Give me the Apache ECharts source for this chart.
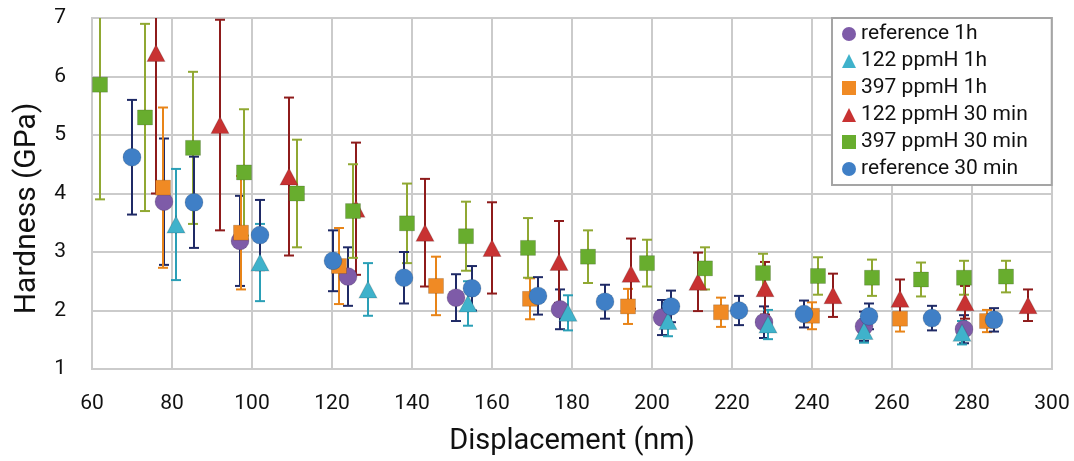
<!DOCTYPE html>
<html>
<head>
<meta charset="utf-8">
<script src="https://cdn.jsdelivr.net/npm/echarts@6/dist/echarts.min.js"></script>
<style>
  html, body { margin: 0; padding: 0; background: #fff; }
  #chart { width: 1074px; height: 461px; }
</style>
</head>
<body>
<div id="chart"></div>
<script>
// displacement (nm), hardness (GPa), half error bar (GPa)
const ref1hX = [78, 97, 124, 151, 177, 202.5, 228, 253, 278]
const ref1hY = [3.86, 3.19, 2.58, 2.22, 2.02, 1.88, 1.8, 1.73, 1.68]
const ref1hErr = [1.08, 0.77, 0.5, 0.4, 0.34, 0.3, 0.27, 0.25, 0.24]

const h122_1hX = [81, 102, 129, 154, 179, 204, 229, 253, 277.5]
const h122_1hY = [3.47, 2.82, 2.36, 2.12, 1.96, 1.82, 1.76, 1.65, 1.62]
const h122_1hErr = [0.95, 0.66, 0.45, 0.38, 0.3, 0.26, 0.25, 0.2, 0.2]

const h397_1hX = [77.75, 97.25, 121.75, 146, 169.5, 194, 217.25, 240, 262, 283.75]
const h397_1hY = [4.1, 3.33, 2.76, 2.42, 2.2, 2.07, 1.97, 1.91, 1.86, 1.82]
const h397_1hErr = [1.37, 0.97, 0.65, 0.5, 0.35, 0.3, 0.25, 0.23, 0.22, 0.19]

const h122_30X = [76, 92, 109.25, 126, 143.25, 160, 176.75, 194.75, 211.5, 228.25, 245.25, 262, 278.25, 294]
const h122_30Y = [6.4, 5.17, 4.29, 3.74, 3.33, 3.07, 2.83, 2.63, 2.49, 2.38, 2.26, 2.2, 2.14, 2.09]
const h122_30Err = [2.4, 1.8, 1.35, 1.13, 0.92, 0.78, 0.7, 0.6, 0.5, 0.45, 0.37, 0.33, 0.28, 0.27]

const h397_30X = [62, 73.25, 85.25, 98, 111.25, 125.25, 138.75, 153.5, 169, 184, 198.75, 213.25, 227.75, 241.5, 255, 267.25, 278, 288.5]
const h397_30Y = [5.86, 5.3, 4.78, 4.36, 4.0, 3.7, 3.49, 3.27, 3.07, 2.92, 2.81, 2.72, 2.64, 2.59, 2.56, 2.53, 2.56, 2.58]
const h397_30Err = [1.96, 1.6, 1.3, 1.08, 0.92, 0.8, 0.68, 0.59, 0.51, 0.45, 0.4, 0.36, 0.33, 0.32, 0.31, 0.29, 0.29, 0.27]

const ref30X = [70, 85.5, 102, 120.25, 138, 155, 171.5, 188.25, 204.75, 221.75, 238, 254.25, 270, 285.5]
const ref30Y = [4.62, 3.85, 3.29, 2.85, 2.56, 2.38, 2.25, 2.15, 2.07, 2.0, 1.94, 1.9, 1.87, 1.84]
const ref30Err = [0.98, 0.78, 0.6, 0.52, 0.44, 0.38, 0.32, 0.29, 0.27, 0.25, 0.23, 0.22, 0.21, 0.2]

const xTicks = [60, 80, 100, 120, 140, 160, 180, 200, 220, 240, 260, 280, 300]

const seriesDefs = [
  { name: 'reference 1h', xs: ref1hX, ys: ref1hY, err: ref1hErr, symbol: 'circle', size: 18, color: '#7e5ba8', bar: '#1f2a66' },
  { name: '122 ppmH 1h', xs: h122_1hX, ys: h122_1hY, err: h122_1hErr, symbol: 'triangle', size: 18, color: '#3fb2cb', bar: '#2a9fb6' },
  { name: '397 ppmH 1h', xs: h397_1hX, ys: h397_1hY, err: h397_1hErr, symbol: 'rect', size: 15, color: '#f08a24', bar: '#e88418' },
  { name: '122 ppmH 30 min', xs: h122_30X, ys: h122_30Y, err: h122_30Err, symbol: 'triangle', size: 18, color: '#c83232', bar: '#8e1b1b' },
  { name: '397 ppmH 30 min', xs: h397_30X, ys: h397_30Y, err: h397_30Err, symbol: 'rect', size: 15, color: '#68ad2e', bar: '#90a832' },
  { name: 'reference 30 min', xs: ref30X, ys: ref30Y, err: ref30Err, symbol: 'circle', size: 18, color: '#3f7fc6', bar: '#1f2a66' }
]

function errorBars (color) {
  return function (params, api) {
    const x = api.value(0)
    const top = api.coord([x, api.value(2)])
    const bot = api.coord([x, api.value(1)])
    const w = 5
    const style = { stroke: color, lineWidth: 2 }
    return {
      type: 'group',
      children: [
        { type: 'line', shape: { x1: top[0], y1: top[1], x2: bot[0], y2: bot[1] }, style },
        { type: 'line', shape: { x1: top[0] - w, y1: top[1], x2: top[0] + w, y2: top[1] }, style },
        { type: 'line', shape: { x1: bot[0] - w, y1: bot[1], x2: bot[0] + w, y2: bot[1] }, style }
      ]
    }
  }
}

const series = []
seriesDefs.forEach(function (s) {
  series.push({
    type: 'custom',
    name: s.name + ' err',
    clip: true,
    renderItem: errorBars(s.bar),
    encode: { x: 0, y: [1, 2] },
    data: s.xs.map((x, i) => [x, s.ys[i] - s.err[i], s.ys[i] + s.err[i]]),
    silent: true
  })
  series.push({
    type: 'scatter',
    name: s.name,
    symbol: s.symbol,
    symbolSize: s.symbol === 'triangle' ? [18, 17] : s.size,
    clip: true,
    itemStyle: { color: s.color, opacity: 1, borderColor: 'rgba(0,0,0,0.15)', borderWidth: 1 },
    data: s.xs.map((x, i) => [x, s.ys[i]])
  })
})

const chart = echarts.init(document.getElementById('chart'))
const gray = '#cbcbcb'
const font = 'Roboto, "Liberation Sans", sans-serif'

chart.setOption({
  animation: false,
  backgroundColor: '#fff',
  grid: { left: 92, right: 22, top: 18, bottom: 91, show: true, borderColor: gray, borderWidth: 2 },
  legend: {
    orient: 'vertical',
    left: 832,
    top: 18,
    padding: [5, 24, 5, 10],
    itemGap: 5,
    itemWidth: 14,
    itemHeight: 14,
    itemTextGap: 8,
    borderColor: '#a5a5a5',
    borderWidth: 2,
    backgroundColor: '#fff',
    textStyle: { fontFamily: font, fontSize: 21, color: '#111', lineHeight: 22 },
    data: seriesDefs.map(s => ({ name: s.name, icon: s.symbol, itemStyle: { color: s.color, borderWidth: 0 } }))
  },
  xAxis: {
    type: 'value',
    min: xTicks[0],
    max: xTicks[xTicks.length - 1],
    interval: 20,
    name: 'Displacement (nm)',
    nameLocation: 'middle',
    nameGap: 58,
    nameTextStyle: { fontFamily: font, fontSize: 29, color: '#111' },
    axisLine: { show: true, lineStyle: { color: gray, width: 2 } },
    axisTick: { show: false },
    axisLabel: { fontFamily: font, fontSize: 21, color: '#111', margin: 24 },
    splitLine: { show: true, lineStyle: { color: gray, width: 2 } }
  },
  yAxis: {
    type: 'value',
    min: 1,
    max: 7,
    interval: 1,
    name: 'Hardness (GPa)',
    nameLocation: 'middle',
    nameGap: 50,
    nameTextStyle: { fontFamily: font, fontSize: 30, color: '#111', padding: [0, 30, 0, 0] },
    axisLine: { show: true, lineStyle: { color: gray, width: 2 } },
    axisTick: { show: false },
    axisLabel: { fontFamily: font, fontSize: 21, color: '#111', margin: 26 },
    splitLine: { show: true, lineStyle: { color: gray, width: 2 } }
  },
  series: series
})
</script>
</body>
</html>
